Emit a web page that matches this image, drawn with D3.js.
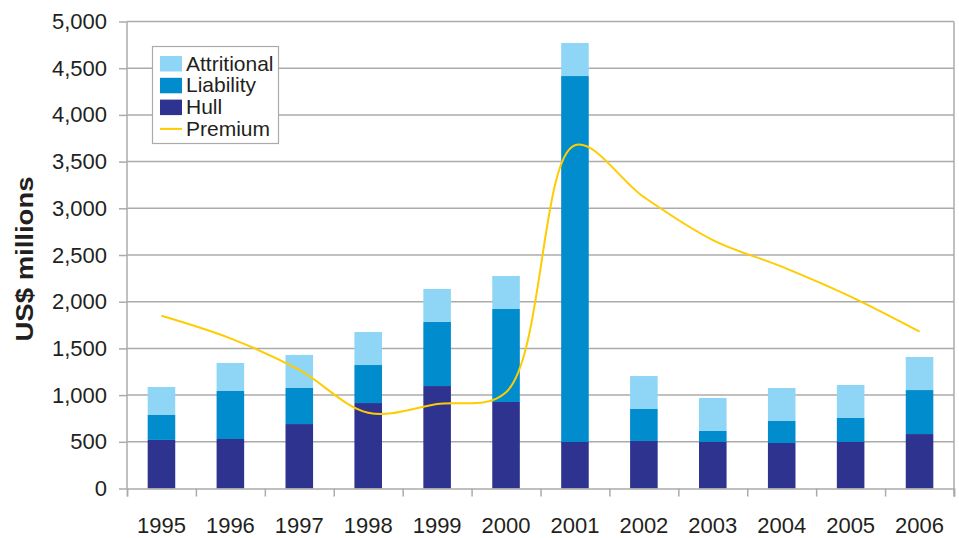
<!DOCTYPE html>
<html>
<head>
<meta charset="utf-8">
<script src="https://cdn.jsdelivr.net/npm/d3@7"></script>
<style>
  html, body { margin: 0; padding: 0; background: #fff; }
  svg { display: block; font-family: "Liberation Sans", Arial, sans-serif; }
</style>
</head>
<body>
<svg id="chart" width="959" height="538"></svg>
<script>
const years = ["1995","1996","1997","1998","1999","2000","2001","2002","2003","2004","2005","2006"];
const hull        = [520, 530, 690, 915, 1097, 926, 498, 509, 498, 487, 498, 583];
const liability   = [267, 514, 386, 407, 686, 996, 3918, 342, 118, 236, 257, 471];
const attritional = [300, 300, 354, 354, 353, 353, 354, 353, 353, 353, 353, 354];
const premium     = [1850, 1608, 1269, 812, 905, 1030, 3675, 3120, 2660, 2375, 2054, 1679];
const yTicks = [0, 500, 1000, 1500, 2000, 2500, 3000, 3500, 4000, 4500, 5000];
const seriesNames = ["Attritional", "Liability", "Hull", "Premium"];
const seriesKeys = ["hull", "liability", "attritional"];
const colors = { hull: "#2e3390", liability: "#008ccd", attritional: "#8fd6f6", premium: "#ffcc00" };

const svg = d3.select("#chart");
const X0 = 127, X1 = 954, YT = 21.5, YB = 488.5;

const x = d3.scaleBand().domain(years).range([X0, X1]).paddingInner(0.6).paddingOuter(0.3);
const xEdges = d3.scaleLinear().domain([0, years.length]).range([X0, X1]);
const y = d3.scaleLinear().domain([0, 5000]).range([YB, YT]);

const textColor = "#231f20";
const gridColor = "#ababab";

// gridlines + y axis
const yAxis = svg.append("g")
  .attr("transform", `translate(${X0},0)`)
  .call(d3.axisLeft(y).tickValues(yTicks).tickSize(8).tickPadding(12).tickFormat(d3.format(",")));
yAxis.select(".domain").remove();
yAxis.selectAll("line").attr("stroke", gridColor).attr("stroke-width", 1.5);
yAxis.selectAll("text").attr("font-size", 22).attr("fill", textColor)
  .attr("font-family", "'Liberation Sans', Arial, sans-serif");

svg.append("g").selectAll("line").data(yTicks.filter(d => d > 0)).join("line")
  .attr("x1", X0).attr("x2", X1)
  .attr("y1", d => y(d)).attr("y2", d => y(d))
  .attr("stroke", gridColor).attr("stroke-width", 1.5);

// bars
const rows = years.map((yr, i) => ({ year: yr, hull: hull[i], liability: liability[i], attritional: attritional[i] }));
const stacked = d3.stack().keys(seriesKeys)(rows);
svg.append("g").selectAll("g").data(stacked).join("g")
  .attr("fill", d => colors[d.key])
  .selectAll("rect").data(d => d).join("rect")
  .attr("x", d => x(d.data.year))
  .attr("width", x.bandwidth())
  .attr("y", d => y(d[1]))
  .attr("height", d => y(d[0]) - y(d[1]));

// axis lines
svg.append("line").attr("x1", X0).attr("x2", X0).attr("y1", YT).attr("y2", YB)
  .attr("stroke", gridColor).attr("stroke-width", 1.5);
svg.append("line").attr("x1", X1).attr("x2", X1).attr("y1", YT).attr("y2", YB + 8)
  .attr("stroke", gridColor).attr("stroke-width", 1.5);

// x axis boundary ticks
const xTickAxis = svg.append("g")
  .attr("transform", `translate(0,${YB})`)
  .call(d3.axisBottom(xEdges).tickValues(d3.range(0, years.length + 1)).tickSize(8).tickFormat(""));
xTickAxis.select(".domain").attr("stroke", gridColor).attr("stroke-width", 1.5);
xTickAxis.selectAll("line").attr("stroke", gridColor).attr("stroke-width", 1.5);

// x labels
const xAxis = svg.append("g")
  .attr("transform", `translate(0,${YB})`)
  .call(d3.axisBottom(x).tickSize(0).tickPadding(29));
xAxis.select(".domain").remove();
xAxis.selectAll("text").attr("font-size", 22).attr("fill", textColor)
  .attr("font-family", "'Liberation Sans', Arial, sans-serif");

// premium line
const line = d3.line()
  .x((d, i) => x(years[i]) + x.bandwidth() / 2)
  .y(d => y(d))
  .curve(d3.curveCatmullRom.alpha(0.5));
svg.append("path").datum(premium)
  .attr("d", line)
  .attr("fill", "none")
  .attr("stroke", colors.premium)
  .attr("stroke-width", 2);

// y title
svg.append("text")
  .attr("transform", "translate(33.2,259) rotate(-90) scale(1,0.88)")
  .attr("text-anchor", "middle")
  .attr("font-weight", "bold")
  .attr("font-size", 27.5)
  .attr("fill", textColor)
  .text("US$ millions");

// legend
const lg = svg.append("g");
lg.append("rect").attr("x", 152.5).attr("y", 46.5).attr("width", 126).attr("height", 97)
  .attr("fill", "#fff").attr("stroke", gridColor).attr("stroke-width", 1.2);
const legendColors = [colors.attritional, colors.liability, colors.hull, colors.premium];
const legendItems = lg.selectAll("g.item").data(seriesNames).join("g").attr("class", "item")
  .attr("transform", (d, i) => `translate(160,${56 + i * 21.8})`);
legendItems.filter((d, i) => i < 3).append("rect")
  .attr("width", 22).attr("height", 15.5)
  .attr("fill", (d, i) => legendColors[i]);
legendItems.filter((d, i) => i === 3).append("line")
  .attr("x1", 0).attr("x2", 22).attr("y1", 7.5).attr("y2", 7.5)
  .attr("stroke", colors.premium).attr("stroke-width", 2);
legendItems.append("text")
  .attr("x", 26).attr("y", 14.5)
  .attr("font-size", 21)
  .attr("fill", textColor)
  .text(d => d);
</script>
</body>
</html>
